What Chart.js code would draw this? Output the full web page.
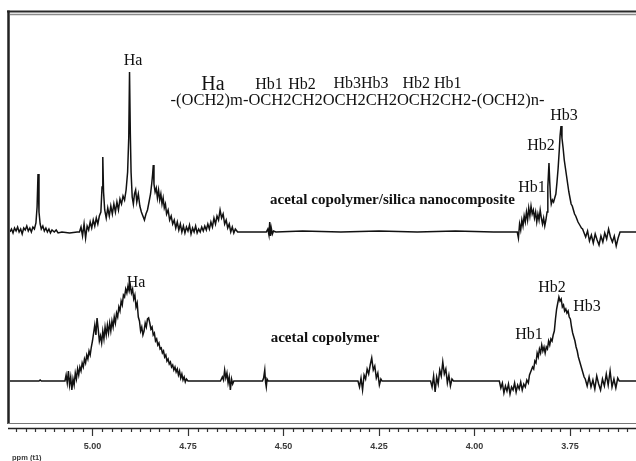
<!DOCTYPE html>
<html lang="en">
<head>
<meta charset="UTF-8">
<title>1H NMR spectra</title>
<script src="https://cdn.jsdelivr.net/npm/chart.js@4.4.1/dist/chart.umd.min.js"></script>
<style>
  html, body { margin: 0; padding: 0; background: #fff; }
  #wrap { width: 636px; height: 461px; }
</style>
</head>
<body>
<div id="wrap"><canvas id="chart" width="636" height="461"></canvas></div>
<script>
// [ppm, intensity above own baseline]
const topSpectrum = [
  [5.216,0],[5.212,3],[5.208,-1],[5.204,4],[5.200,1],[5.196,5],[5.192,0],[5.188,3],[5.184,-2],[5.180,4],
  [5.176,2],[5.172,6],[5.168,1],[5.164,4],[5.160,0],[5.156,5],[5.152,3],[5.148,9],[5.145,25],[5.1426,58],
  [5.140,20],[5.137,8],[5.134,3],[5.130,6],[5.126,1],[5.122,4],[5.118,0],[5.114,3],[5.110,-1],[5.106,2],
  [5.100,0],[5.095,2],[5.090,-1],[5.080,0],[5.060,-1],[5.040,0],[5.034,0],[5.030,5],[5.026,-4],[5.022,8],
  [5.018,-6],[5.014,6],[5.010,2],[5.006,10],[5.002,4],[4.998,12],[4.994,6],[4.990,14],[4.986,8],[4.982,16],
  [4.978,20],[4.975,45],[4.973,75],[4.971,40],[4.968,22],[4.964,14],[4.960,24],[4.956,16],[4.952,26],[4.948,18],
  [4.944,28],[4.940,20],[4.936,30],[4.932,22],[4.928,33],[4.924,28],[4.920,36],[4.916,32],[4.912,42],[4.908,60],
  [4.905,95],[4.903,160],[4.901,100],[4.899,60],[4.896,35],[4.893,28],[4.890,38],[4.887,42],[4.884,30],[4.880,38],
  [4.876,26],[4.872,20],[4.868,16],[4.864,12],[4.860,18],[4.856,22],[4.852,30],[4.848,38],[4.845,48],[4.8425,58],
  [4.8408,67],[4.839,48],[4.836,40],[4.833,44],[4.830,34],[4.827,42],[4.824,32],[4.821,38],[4.818,28],[4.815,34],
  [4.812,24],[4.809,28],[4.806,18],[4.802,22],[4.798,12],[4.794,16],[4.790,8],[4.786,12],[4.782,4],[4.778,10],
  [4.774,2],[4.770,8],[4.766,0],[4.762,6],[4.758,-1],[4.754,5],[4.750,1],[4.746,7],[4.742,-2],[4.738,4],
  [4.734,0],[4.730,6],[4.726,-1],[4.722,3],[4.718,0],[4.714,5],[4.710,1],[4.706,6],[4.702,2],[4.698,8],
  [4.694,3],[4.690,10],[4.686,5],[4.682,14],[4.678,8],[4.674,16],[4.670,12],[4.666,22],[4.662,14],[4.658,18],
  [4.654,8],[4.650,12],[4.646,4],[4.642,8],[4.638,0],[4.634,5],[4.630,-1],[4.626,3],[4.620,0],[4.545,0],
  [4.541,3],[4.538,-3],[4.536,10],[4.534,-4],[4.532,4],[4.529,-2],[4.526,1],[4.520,0],[4.45,1],[4.35,0],
  [4.25,1],[4.15,0],[4.05,1],[3.95,0],[3.888,0],[3.885,-6],[3.882,8],[3.879,2],[3.876,12],[3.873,6],
  [3.870,16],[3.867,10],[3.864,20],[3.861,12],[3.858,24],[3.855,16],[3.852,26],[3.849,18],[3.846,22],[3.843,14],
  [3.840,20],[3.837,10],[3.834,18],[3.831,12],[3.828,22],[3.825,14],[3.822,8],[3.819,14],[3.816,6],[3.813,12],
  [3.810,20],[3.808,45],[3.805,69],[3.803,50],[3.801,35],[3.799,28],[3.796,32],[3.793,30],[3.790,34],[3.787,38],
  [3.784,50],[3.781,64],[3.778,82],[3.776,96],[3.7735,106],[3.771,94],[3.768,84],[3.765,72],[3.762,64],[3.759,56],
  [3.756,48],[3.753,40],[3.750,34],[3.747,28],[3.744,26],[3.741,22],[3.738,18],[3.735,16],[3.732,13],[3.729,10],
  [3.726,8],[3.723,6],[3.720,4],[3.717,3],[3.714,0],[3.709,-5],[3.704,1],[3.699,-9],[3.694,-3],[3.689,-11],
  [3.684,-2],[3.679,-8],[3.674,-13],[3.669,-4],[3.664,-10],[3.659,-1],[3.654,-7],[3.649,3],[3.644,-5],[3.639,-10],
  [3.634,-4],[3.629,-14],[3.624,-6],[3.619,0],[3.615,0],[3.577,0]
];

const bottomSpectrum = [
  [5.216,0],[5.140,0],[5.137,1],[5.134,0],[5.075,0],[5.072,0],[5.069,6],[5.066,-2],[5.063,10],[5.060,-4],
  [5.057,4],[5.054,-9],[5.051,2],[5.048,-4],[5.045,8],[5.042,2],[5.039,12],[5.036,6],[5.033,14],[5.030,10],
  [5.027,18],[5.024,14],[5.021,22],[5.018,18],[5.015,26],[5.012,22],[5.009,30],[5.006,26],[5.003,34],[5.000,40],
  [4.997,48],[4.994,56],[4.991,46],[4.988,63],[4.985,52],[4.982,40],[4.979,45],[4.976,38],[4.973,50],[4.970,42],
  [4.967,54],[4.964,46],[4.961,56],[4.958,48],[4.955,58],[4.952,50],[4.949,60],[4.946,54],[4.943,64],[4.940,58],
  [4.937,68],[4.934,64],[4.931,74],[4.928,70],[4.925,80],[4.922,76],[4.919,86],[4.916,84],[4.913,92],[4.910,88],
  [4.907,95],[4.904,90],[4.901,96],[4.898,88],[4.895,92],[4.892,82],[4.889,86],[4.886,74],[4.883,78],[4.880,64],
  [4.877,60],[4.874,50],[4.871,54],[4.868,46],[4.865,50],[4.862,58],[4.859,54],[4.856,62],[4.853,63],[4.850,58],
  [4.847,52],[4.844,54],[4.841,46],[4.838,48],[4.835,40],[4.832,42],[4.829,36],[4.826,38],[4.823,32],[4.820,33],
  [4.817,28],[4.814,30],[4.811,24],[4.808,26],[4.805,20],[4.802,22],[4.799,17],[4.796,19],[4.793,14],[4.790,16],
  [4.787,11],[4.784,14],[4.781,9],[4.778,12],[4.775,6],[4.772,10],[4.769,3],[4.766,7],[4.763,1],[4.760,4],
  [4.757,-1],[4.754,2],[4.750,0],[4.665,0],[4.660,4],[4.657,1],[4.654,11],[4.651,3],[4.648,8],[4.645,-2],
  [4.642,4],[4.639,-9],[4.636,2],[4.633,-3],[4.630,0],[4.555,0],[4.552,3],[4.549,11],[4.547,-1],[4.545,-6],
  [4.543,2],[4.540,0],[4.305,0],[4.301,-6],[4.297,3],[4.293,-9],[4.289,6],[4.285,2],[4.281,12],[4.277,7],
  [4.273,16],[4.269,23],[4.265,11],[4.261,15],[4.257,3],[4.253,8],[4.249,-4],[4.245,2],[4.242,0],[4.115,0],
  [4.111,-6],[4.107,5],[4.103,-11],[4.099,4],[4.095,-3],[4.091,11],[4.087,5],[4.083,19],[4.079,7],[4.075,12],
  [4.071,-2],[4.067,6],[4.063,-5],[4.059,2],[4.055,0],[3.935,0],[3.931,-7],[3.927,-2],[3.923,-12],[3.919,-5],
  [3.915,-10],[3.911,-3],[3.907,-13],[3.903,-6],[3.899,-9],[3.895,-2],[3.891,-11],[3.887,-4],[3.883,-8],[3.879,-1],
  [3.875,-9],[3.871,-3],[3.867,-6],[3.863,1],[3.859,-2],[3.856,6],[3.852,10],[3.848,14],[3.845,12],[3.842,20],
  [3.839,18],[3.836,28],[3.833,24],[3.830,32],[3.827,28],[3.824,36],[3.821,30],[3.818,34],[3.815,28],[3.812,34],
  [3.809,32],[3.806,40],[3.803,36],[3.800,42],[3.797,40],[3.794,46],[3.791,50],[3.788,62],[3.785,72],[3.782,78],
  [3.779,84],[3.776,80],[3.773,82],[3.770,74],[3.767,76],[3.764,70],[3.761,72],[3.758,68],[3.755,70],[3.752,64],
  [3.749,62],[3.746,54],[3.743,48],[3.740,44],[3.737,40],[3.734,34],[3.731,30],[3.728,24],[3.725,20],[3.722,16],
  [3.719,12],[3.716,8],[3.713,4],[3.710,2],[3.705,-5],[3.700,4],[3.695,-6],[3.690,1],[3.685,-8],[3.680,5],
  [3.675,-3],[3.670,-9],[3.665,2],[3.660,-5],[3.655,7],[3.650,-4],[3.645,10],[3.640,-6],[3.635,2],[3.630,-7],
  [3.625,3],[3.621,0],[3.577,0]
];

const tickLabels = ['5.00', '4.75', '4.50', '4.25', '4.00', '3.75'];
const axisTitle = 'ppm (t1)';

// where each trace sits on the y scale (stacked plot)
const topBase = 192;
const bottomBase = 43;

// text: [text, ppm, y value, font, max width]
const texts = [
  ['Ha', 4.894, 363, '16px "Liberation Serif"'],
  ['Ha', 4.6845, 339, '20px "Liberation Serif"'],
  ['Hb1', 4.5379, 339, '16px "Liberation Serif"'],
  ['Hb2', 4.4515, 339, '16px "Liberation Serif"'],
  ['Hb3Hb3', 4.2971, 340, '16px "Liberation Serif"'],
  ['Hb2 Hb1', 4.1112, 340, '16px "Liberation Serif"'],
  ['-(OCH2)m-OCH2CH2OCH2CH2OCH2CH2-(OCH2)n-', 4.3062, 323, '16.5px "Liberation Serif"', 375],
  ['acetal copolymer/silica nanocomposite', 4.2146, 224, 'bold 15px "Liberation Serif"', 255],
  ['Hb1', 3.8494, 236, '16px "Liberation Serif"'],
  ['Hb2', 3.8259, 278, '16px "Liberation Serif"'],
  ['Hb3', 3.7657, 308, '16px "Liberation Serif"'],
  ['Ha', 4.8861, 141, '16px "Liberation Serif"'],
  ['acetal copolymer', 4.3913, 86, 'bold 15px "Liberation Serif"', 114],
  ['Hb1', 3.8573, 89, '16px "Liberation Serif"'],
  ['Hb2', 3.7971, 136, '16px "Liberation Serif"'],
  ['Hb3', 3.7055, 117, '16px "Liberation Serif"']
];

const frame = {
  id: 'frame',
  afterDraw(chart) {
    const { ctx, chartArea: a, scales: { x, y } } = chart;
    ctx.save();

    // labels
    ctx.fillStyle = '#111';
    ctx.textAlign = 'center';
    ctx.textBaseline = 'middle';
    texts.forEach(t => {
      ctx.font = t[3];
      const px = x.getPixelForValue(t[1]), py = y.getPixelForValue(t[2]);
      if (t[4]) ctx.fillText(t[0], px, py, t[4]);
      else ctx.fillText(t[0], px, py);
    });

    // box
    ctx.strokeStyle = '#2a2a2a';
    ctx.lineWidth = 2;
    ctx.beginPath(); ctx.moveTo(7, 11.5); ctx.lineTo(636, 11.5); ctx.stroke();
    ctx.strokeStyle = '#8a8a8a';
    ctx.lineWidth = 1.5;
    ctx.beginPath(); ctx.moveTo(10, 14.5); ctx.lineTo(636, 14.5); ctx.stroke();
    ctx.strokeStyle = '#222';
    ctx.lineWidth = 2.5;
    ctx.beginPath(); ctx.moveTo(8.5, 10.5); ctx.lineTo(8.5, a.bottom); ctx.stroke();
    ctx.strokeStyle = '#777';
    ctx.lineWidth = 1;
    ctx.beginPath(); ctx.moveTo(8, 423.5); ctx.lineTo(636, 423.5); ctx.stroke();
    ctx.strokeStyle = '#222';
    ctx.lineWidth = 1.5;
    ctx.beginPath(); ctx.moveTo(8, 428.5); ctx.lineTo(636, 428.5); ctx.stroke();

    // ticks every 0.025 ppm, long ones under the labels
    ctx.lineWidth = 1.2;
    ctx.strokeStyle = '#333';
    for (let k = Math.ceil(x.min / 0.025); k * 0.025 <= x.max; k++) {
      const px = Math.round(x.getPixelForValue(k * 0.025)) + 0.5;
      const major = k % 10 === 0;
      ctx.beginPath();
      ctx.moveTo(px, 429);
      ctx.lineTo(px, major ? 436 : 432);
      ctx.stroke();
    }
    ctx.fillStyle = '#3a3a3a';
    ctx.font = 'bold 9px "Liberation Sans"';
    tickLabels.forEach(l => {
      ctx.fillText(l, x.getPixelForValue(parseFloat(l)), 447);
    });
    ctx.textAlign = 'left';
    ctx.font = 'bold 7.5px "Liberation Sans"';
    ctx.fillText(axisTitle, 12, 457.5);
    ctx.restore();
  }
};

const ctx = document.getElementById('chart').getContext('2d');
const myChart = new Chart(ctx, {
  type: 'line',
  data: {
    datasets: [{
      label: 'acetal copolymer/silica nanocomposite',
      data: topSpectrum.map(p => ({ x: p[0], y: p[1] + topBase })),
      borderColor: '#111',
      borderWidth: 1.5
    }, {
      label: 'acetal copolymer',
      data: bottomSpectrum.map(p => ({ x: p[0], y: p[1] + bottomBase })),
      borderColor: '#111',
      borderWidth: 1.5
    }]
  },
  options: {
    responsive: false,
    animation: false,
    layout: { padding: { left: 10, right: 0, top: 14, bottom: 37 } },
    elements: { point: { radius: 0 }, line: { tension: 0 } },
    plugins: { legend: { display: false }, tooltip: { enabled: false } },
    scales: {
      x: { type: 'linear', reverse: true, min: 3.5772, max: 5.2159, display: false },
      y: { min: 0, max: 410, display: false }
    }
  },
  plugins: [frame]
});
</script>
</body>
</html>
